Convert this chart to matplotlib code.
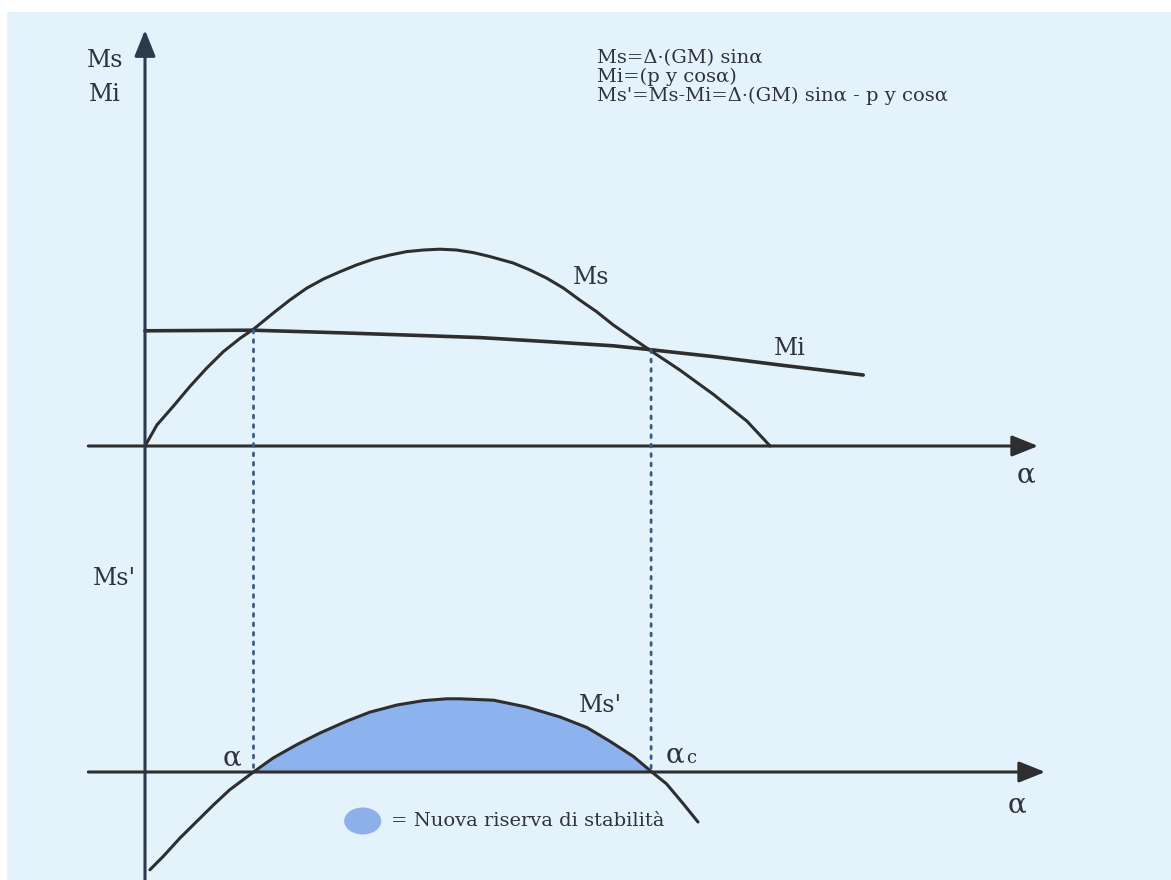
import matplotlib
matplotlib.use('Agg')
import matplotlib.pyplot as plt
from matplotlib.patches import Ellipse, Rectangle, ConnectionPatch
import numpy as np

# ---- data (conceptual units: alpha in degrees, moments in arbitrary units) ----
alpha_ms = [0, 1.7, 4, 6.4, 8.8, 11.2, 13.6, 15.5, 18.3, 20.7, 23.1, 25.5, 27.9, 30.2,
            32.6, 35, 37.4, 39.8, 42.1, 44.5, 46.9, 49.3, 52.6, 55, 57.4, 59.8, 62.1,
            64.5, 66.9, 69.3, 72.1, 76.4, 81.2, 86, 89.3]
ms = [0, 10.5, 19.7, 29.7, 38.9, 47.2, 53.9, 58.4, 66.4, 73, 78.9, 83.5, 87.2, 90.5,
      93.4, 95.5, 97.2, 98, 98.4, 98, 96.7, 94.7, 91.5, 88, 83.9, 78.9, 73,
      67.2, 60.5, 54.7, 48, 38, 25.8, 12.4, 0]
alpha_mi = [0, 15.4, 27.9, 39.7, 47.9, 57.4, 66.9, 72.1, 81.2, 90.7, 102.6]
mi = [57.6, 57.9, 56.6, 55.2, 54.2, 52.2, 50.1, 48.2, 44.7, 40.5, 35.5]
alpha_msp = [0.7, 2.6, 5, 7.4, 9.8, 12.1, 15.5, 18.3, 21.7, 25, 28.8, 32.1, 36, 39.8,
             43.1, 45, 49.8, 54.5, 59.3, 63.1, 66.4, 69.8, 72.4, 74.5, 76.9, 79]
msp = [-48.9, -42.2, -33, -24.7, -16.4, -8.9, 0, 7, 13.7, 19.5, 25.4, 29.9, 33.5, 35.7,
       36.6, 36.6, 35.9, 32.5, 27.5, 22.3, 15.4, 7.7, 0, -5.9, -15.9, -25]
alpha_1 = 15.5
alpha_c = 72.3
formulas = ["Ms=Δ·(GM) sinα",
            "Mi=(p y cosα)",
            "Ms'=Ms-Mi=Δ·(GM) sinα - p y cosα"]
legend_text = "= Nuova riserva di stabilità"

# ---- figure ----
W, H = 1171, 880
fig = plt.figure(figsize=(W / 100, H / 100), dpi=100, facecolor='white')
BG = '#e4f3fb'
fig.add_artist(Rectangle((7 / W, 0), 1 - 7 / W, 1 - 12 / H, transform=fig.transFigure,
                         facecolor=BG, edgecolor='none', zorder=-10))

ax1 = fig.add_axes([0, 0, 1, 1])
ax2 = fig.add_axes([0, 0, 1, 1])
for ax in (ax1, ax2):
    ax.set_axis_off()
    ax.patch.set_alpha(0)
    ax.set_xlim(-145 / 7, (W - 145) / 7)
ax1.set_ylim((446 - H) / 2, 446 / 2)
ax2.set_ylim((772 - H) / 2, 772 / 2)

LC = '#2e2e2e'
TC = '#2f3140'
FONT = ['DejaVu Serif']

arrow = dict(arrowstyle='-|>,head_length=0.8,head_width=0.32', lw=2.2, color=LC,
             mutation_scale=20, shrinkA=0, shrinkB=0)
# axes
ax1.annotate('', xy=(127.6, 0), xytext=(-8.1, 0), arrowprops=arrow)
ax2.annotate('', xy=(128.6, 0), xytext=(-8.1, 0), arrowprops=arrow)
ax1.annotate('', xy=(0, 208), xytext=(0, -217),
             arrowprops=dict(arrow, color='#2c3a4e'))

# curves
ax1.plot(alpha_ms, ms, color=LC, lw=2.2, solid_capstyle='round', solid_joinstyle='round')
ax1.plot(alpha_mi, mi, color=LC, lw=2.6, solid_capstyle='round', solid_joinstyle='round')
ax2.plot(alpha_msp, msp, color=LC, lw=2.2, solid_capstyle='round', solid_joinstyle='round')

a = np.array(alpha_msp)
m = np.array(msp)
sel = (a >= alpha_1) & (a <= alpha_c + 0.2)
ax2.fill_between(a[sel], m[sel], 0, color='#8db3ee', lw=0, zorder=1)

# dotted verticals
for av in (alpha_1, alpha_c):
    top = np.interp(av, alpha_mi, mi)
    con = ConnectionPatch(xyA=(av, top), coordsA=ax1.transData,
                          xyB=(av, 0), coordsB=ax2.transData,
                          color='#3b5b86', lw=2.0, linestyle=(0, (1, 2.4)))
    fig.add_artist(con)

# labels
kw = dict(family=FONT, color=TC)
ax1.text(-5.7, 193, 'Ms', fontsize=17, ha='center', va='center', **kw)
ax1.text(-5.8, 176, 'Mi', fontsize=17, ha='center', va='center', **kw)
ax2.text(-4.4, 97, "Ms'", fontsize=17, ha='center', va='center', **kw)
ax1.text(63.7, 84.5, 'Ms', fontsize=17, ha='center', va='center', **kw)
ax1.text(92.1, 49, 'Mi', fontsize=17, ha='center', va='center', **kw)
ax2.text(65.1, 33.5, "Ms'", fontsize=17, ha='center', va='center', **kw)
ax1.text(125.9, -14.5, 'α', fontsize=20, ha='center', va='center', **kw)
ax2.text(124.6, -16.5, 'α', fontsize=20, ha='center', va='center', **kw)
ax2.text(12.4, 7, 'α', fontsize=20, ha='center', va='center', **kw)
ax2.text(75.7, 8.5, 'α', fontsize=20, ha='center', va='center', **kw)
ax2.text(77.3, 7, 'c', fontsize=13, ha='left', va='center', **kw)

for i, f in enumerate(formulas):
    ax1.text(64.6, 194 - 9.5 * i, f, fontsize=14, ha='left', va='center', **kw)

# legend
ax2.add_patch(Ellipse((31.1, -24.5), 5.3, 13.5, facecolor='#8eb0ea', edgecolor='none'))
ax2.text(35.2, -24.5, legend_text, fontsize=14, ha='left', va='center', **kw)

fig.savefig('out.png', dpi=100, facecolor='white')
